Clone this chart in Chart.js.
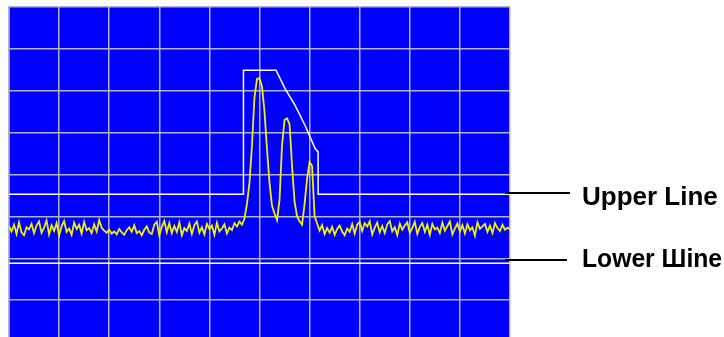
<!DOCTYPE html>
<html>
<head>
<meta charset="utf-8">
<script src="https://cdn.jsdelivr.net/npm/chart.js@4/dist/chart.umd.min.js"></script>
<style>
  html, body { margin: 0; padding: 0; background: #fff; overflow: hidden; }
  #wrap { position: relative; width: 724px; height: 337px; overflow: hidden; }
  #chart { position: absolute; left: 0; top: 0; }
  .tag { position: absolute; left: 582px; font: bold 26px "Liberation Sans", Arial, sans-serif; line-height: 26px; color: #000; white-space: nowrap; transform-origin: 0 50%; }
  .lead { position: absolute; left: 505px; height: 2px; background: #000; }
</style>
</head>
<body>
<div id="wrap">
  <canvas id="chart" width="724" height="346"></canvas>
  <div class="lead" style="top:192px; width:65px;"></div>
  <div class="tag" style="top:183px;">Upper Line</div>
  <div class="lead" style="top:259px; width:62px;"></div>
  <div class="tag" style="top:245px; transform: scaleX(0.95);">Lower Шine</div>
</div>
<script>
// sweep: 201 points, 0.05 div apart, 10 divisions wide
const sweepStep = 0.05;

// trace levels in dB
const noiseLeft = [
  -52.3,-53.6,-52.0,-54.2,-51.4,-53.8,-54.5,-52.6,-53.1,-51.8,
  -54.0,-52.2,-51.2,-53.9,-52.7,-51.0,-54.3,-52.1,-53.5,-51.6,
  -54.6,-52.4,-51.1,-53.7,-52.9,-54.4,-51.5,-53.0,-52.0,-54.1,
  -51.3,-53.3,-52.8,-54.0,-51.9,-53.6,-50.9,-52.7,-53.4,-53.9,
  -53.2,-54.1,-53.6,-54.3,-53.0,-53.8,-54.4,-53.3,-52.6,-53.7,
  -52.1,-54.0,-53.5,-54.5,-53.2,-52.4,-53.9,-54.2,-52.0,-51.3,
  -54.6,-52.5,-51.1,-53.8,-51.6,-54.0,-52.3,-53.7,-51.4,-54.5,
  -52.8,-53.5,-51.7,-54.2,-52.1,-51.2,-53.9,-52.6,-54.3,-51.8,
  -53.0,-52.2,-54.4,-51.5,-53.6,-52.9,-51.9,-54.1,-52.7,-53.3,
  -51.6,-52.4,-51.2,-52.0
];
const peakLevels = [
  -50.5,-47.0,-42.0,-33.0,-21.5,-17.2,-17.0,-19.0,-25.0,-34.0,
  -42.0,-47.5,-49.3,-50.9,-46.0,-33.0,-27.0,-26.6,-28.0,-38.0,
  -46.5,-50.0,-51.2,-52.0,-47.0,-41.0,-37.0,-38.0,-50.0,-51.7
];
const noiseRight = [
  -53.4,-52.1,-54.2,-52.8,-53.9,-52.5,-54.4,-53.0,-52.2,-53.6,
  -54.5,-52.9,-53.7,-51.8,-54.1,-52.0,-51.3,-53.5,-51.6,-52.4,
  -51.2,-54.3,-52.7,-51.5,-53.8,-52.3,-54.0,-51.9,-51.1,-53.6,
  -52.6,-54.5,-51.7,-53.2,-52.2,-51.4,-53.9,-52.8,-51.3,-54.2,
  -52.5,-51.6,-53.7,-52.0,-54.4,-51.8,-53.1,-52.7,-54.0,-51.5,
  -53.4,-52.3,-51.2,-54.3,-52.9,-51.7,-53.6,-52.1,-54.1,-51.9,
  -53.3,-52.6,-54.6,-51.4,-53.0,-52.4,-51.8,-53.7,-52.2,-54.0,
  -51.6,-52.8,-53.5,-52.0,-53.2,-52.7,-53.1
];

// limit lines
const upperX = [0, 4.68, 4.68, 5.33, 5.51, 5.71, 5.91, 6.11, 6.17, 6.17, 10];
const upperY = [-44.7, -44.7, -15.1, -15.1, -19.5, -23.5, -28.3, -33.8, -34.6, -44.7, -44.7];
const lowerX = [0, 10];
const lowerY = [-61.2, -61.2];

const traceLevels = noiseLeft.concat(peakLevels, noiseRight);
const tracePoints = traceLevels.map((v, i) => ({ x: +(i * sweepStep).toFixed(2), y: v }));
const toPoints = (xs, ys) => xs.map((x, i) => ({ x: x, y: ys[i] }));

const gridColor = 'rgb(180,180,210)';

const screenBg = {
  id: 'screenBg',
  beforeDraw(chart) {
    const a = chart.chartArea;
    const ctx = chart.ctx;
    ctx.save();
    ctx.fillStyle = '#0000ff';
    ctx.fillRect(a.left, a.top, a.right - a.left, a.bottom - a.top);
    ctx.restore();
  }
};

new Chart(document.getElementById('chart'), {
  type: 'line',
  data: {
    datasets: [
      {
        label: 'Upper Line',
        data: toPoints(upperX, upperY),
        borderColor: '#ffffff',
        borderWidth: 1.5,
        pointRadius: 0,
        tension: 0
      },
      {
        label: 'Lower Line',
        data: toPoints(lowerX, lowerY),
        borderColor: '#ffffff',
        borderWidth: 1.5,
        pointRadius: 0
      },
      {
        label: 'Trace',
        data: tracePoints,
        borderColor: '#f0f000',
        borderWidth: 1.8,
        pointRadius: 0,
        tension: 0
      }
    ]
  },
  options: {
    responsive: false,
    animation: false,
    layout: { padding: { left: 9, top: 7, right: 214, bottom: 4 } },
    scales: {
      x: {
        type: 'linear',
        min: 0,
        max: 10,
        ticks: { display: false, stepSize: 1 },
        grid: { color: gridColor, lineWidth: 1.5, drawTicks: false },
        border: { display: true, color: gridColor, width: 1.5 }
      },
      y: {
        min: -80,
        max: 0,
        ticks: { display: false, stepSize: 10 },
        grid: { color: gridColor, lineWidth: 1.5, drawTicks: false },
        border: { display: true, color: gridColor, width: 1.5 }
      }
    },
    plugins: {
      legend: { display: false },
      tooltip: { enabled: false }
    }
  },
  plugins: [screenBg]
});
</script>
</body>
</html>
